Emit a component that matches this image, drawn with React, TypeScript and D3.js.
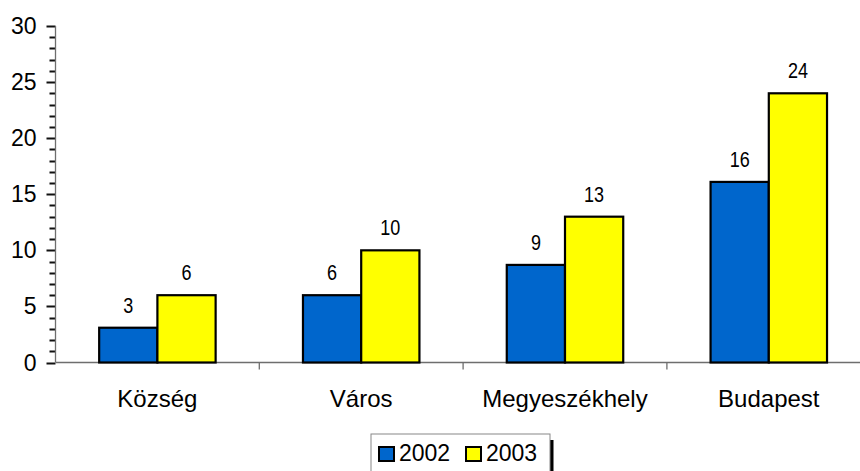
import React from "react";
import * as d3 from "d3";

const categories = ["Község", "Város", "Megyeszékhely", "Budapest"];
const series2002 = [3.1, 6, 8.7, 16.1];
const series2003 = [6, 10, 13, 24];
const labels2002 = ["3", "6", "9", "16"];
const labels2003 = ["6", "10", "13", "24"];
const seriesNames = ["2002", "2003"];
const colors = ["#0066CC", "#FFFF00"];
const yTicks = [0, 5, 10, 15, 20, 25, 30];

const W = 860, H = 471;
const axisX = 55.5;
const axisY = 362.5;
const font = "Liberation Sans, Arial, Helvetica, sans-serif";

export default function App() {
  const x = d3.scaleBand<string>().domain(categories).range([axisX, axisX + 815.2]).padding(0);
  const inner = d3.scaleBand<string>().domain(seriesNames).range([0, x.bandwidth()]).paddingInner(0).paddingOuter(0.75);
  const y = d3.scaleLinear().domain([0, 30]).range([axisY, 26]);
  const minor = d3.range(0, 31, 1);
  const data = [series2002, series2003];
  const labs = [labels2002, labels2003];
  const txt = { fontFamily: font } as React.CSSProperties;

  return (
    <svg width={W} height={H} style={{ position: "absolute", left: 0, top: 0, background: "#fff" }}>
      <rect x={0} y={0} width={W} height={H} fill="#fff" />
      {/* y axis ticks */}
      {minor.map((v) => {
        const len = v % 5 === 0 ? 9 : 6;
        return <rect key={"m" + v} x={axisX - len} y={Math.round(y(v)) - 0.5} width={len} height={2} fill="#111" />;
      })}
      <line x1={axisX} x2={axisX} y1={y(30)} y2={axisY} stroke="#6e6e6e" strokeWidth={1.3} />
      {yTicks.map((v) => (
        <text key={"t" + v} x={axisX - 19} y={y(v) + 8} textAnchor="end" style={txt} fontSize={23} fill="#000">
          {v}
        </text>
      ))}
      {/* x axis */}
      <line x1={axisX} x2={W} y1={axisY} y2={axisY} stroke="#6e6e6e" strokeWidth={1.3} />
      {categories.map((c, i) => (
        <line key={"xt" + i} x1={x(c)! + x.bandwidth()} x2={x(c)! + x.bandwidth()} y1={axisY} y2={axisY + 7} stroke="#6e6e6e" strokeWidth={1.3} />
      ))}
      {/* bars */}
      {seriesNames.map((s, si) =>
        categories.map((c, ci) => {
          const bx = x(c)! + inner(s)!;
          const by = y(data[si][ci]);
          const cx = bx + inner.bandwidth() / 2;
          return (
            <g key={s + c}>
              <rect x={bx} y={by} width={inner.bandwidth()} height={axisY - by} fill={colors[si]} stroke="#000" strokeWidth={2.2} />
              <text transform={`translate(${cx},${by - 15}) scale(0.8,1)`} textAnchor="middle" style={txt} fontSize={22.5} fill="#000">
                {labs[si][ci]}
              </text>
            </g>
          );
        })
      )}
      {categories.map((c) => (
        <text key={"xl" + c} x={x(c)! + x.bandwidth() / 2} y={407} textAnchor="middle" style={txt} fontSize={24} fill="#000">
          {c}
        </text>
      ))}
      {/* legend */}
      <rect x={550} y={440} width={3.5} height={40} fill="#000" />
      <rect x={371} y={434} width={179} height={45} fill="#fff" stroke="#888" strokeWidth={1} />
      {seriesNames.map((s, i) => {
        const lx = 379 + i * 87;
        return (
          <g key={"lg" + s}>
            <rect x={lx} y={447} width={15} height={14} fill={colors[i]} stroke="#000" strokeWidth={2} />
            <text x={lx + 20} y={460.5} style={txt} fontSize={23} fill="#000">
              {s}
            </text>
          </g>
        );
      })}
    </svg>
  );
}
